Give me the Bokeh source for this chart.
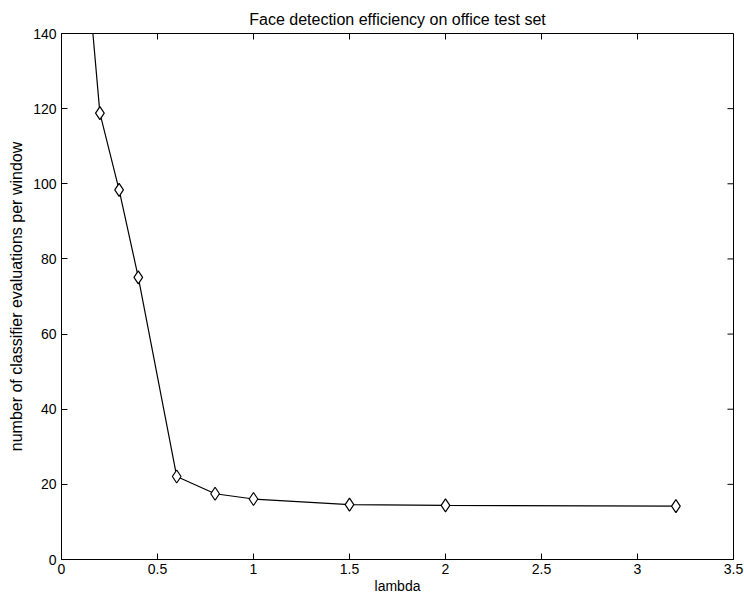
import math

from bokeh.plotting import figure
from bokeh.models import LinearAxis, FixedTicker, Title
from bokeh.embed import file_html
from bokeh.resources import INLINE

# Cascade efficiency: classifier evaluations per window vs. lambda
lambda_vals = [0.1, 0.2, 0.3, 0.4, 0.6, 0.8, 1.0, 1.5, 2.0, 3.2]
evaluations = [177.0, 118.8, 98.4, 75.1, 22.1, 17.5, 16.1, 14.6, 14.4, 14.2]

x_ticks = [0, 0.5, 1, 1.5, 2, 2.5, 3, 3.5]
x_tick_labels = ["0", "0.5", "1", "1.5", "2", "2.5", "3", "3.5"]
y_ticks = [0, 20, 40, 60, 80, 100, 120, 140]
y_tick_labels = ["0", "20", "40", "60", "80", "100", "120", "140"]

X_MIN, X_MAX = 0, 3.5
Y_MIN, Y_MAX = 0, 140

FONT = "Liberation Sans"
TICK_LEN = 6

p = figure(
    width=744, height=596,
    x_range=(X_MIN, X_MAX), y_range=(Y_MIN, Y_MAX),
    output_backend="svg", toolbar_location=None,
    min_border_left=61, min_border_right=11,
    min_border_top=33, min_border_bottom=37,
    x_axis_location=None, y_axis_location=None,
)
p.background_fill_color = "white"
p.border_fill_color = "white"
p.outline_line_color = "black"
p.outline_line_width = 1
p.xgrid.visible = False
p.ygrid.visible = False

title = Title(text="Face detection efficiency on office test set",
              align="center", text_font=FONT, text_font_size="16px",
              text_font_style="normal", text_color="black", standoff=12)
p.add_layout(title, "above")


def style_axis(ax, ticks, labels):
    ax.ticker = FixedTicker(ticks=ticks)
    ax.major_label_overrides = {t: l for t, l in zip(ticks, labels)}
    ax.major_tick_in = TICK_LEN
    ax.major_tick_out = 0
    ax.minor_tick_line_color = None
    ax.axis_line_color = "black"
    ax.major_tick_line_color = "black"
    ax.major_label_text_font = FONT
    ax.major_label_text_color = "black"
    ax.major_label_text_font_size = "14px"
    ax.axis_label_text_font = FONT
    ax.axis_label_text_color = "black"
    ax.axis_label_text_font_style = "normal"


xb = LinearAxis(axis_label="lambda")
style_axis(xb, x_ticks, x_tick_labels)
xb.major_label_standoff = 4
xb.axis_label_text_font_size = "14px"
xb.axis_label_standoff = 1
p.add_layout(xb, "below")

yl = LinearAxis(axis_label="number of classifier evaluations per window")
style_axis(yl, y_ticks, y_tick_labels)
yl.major_label_standoff = 5
yl.axis_label_text_font_size = "16px"
yl.axis_label_standoff = 5
p.add_layout(yl, "left")

# inward box ticks along the top and right edges of the frame
p.ray(x=x_ticks, y=[Y_MAX] * len(x_ticks), length=TICK_LEN,
      angle=-math.pi / 2, length_units="screen", line_color="black")
p.ray(x=[X_MAX] * len(y_ticks), y=y_ticks, length=TICK_LEN,
      angle=math.pi, length_units="screen", line_color="black")

p.line(lambda_vals, evaluations, line_color="black", line_width=1.2)
p.scatter(lambda_vals, evaluations, marker="diamond", size=13,
          fill_color="white", line_color="black", line_width=1.2)

open("out.html", "w").write(file_html(p, INLINE))
